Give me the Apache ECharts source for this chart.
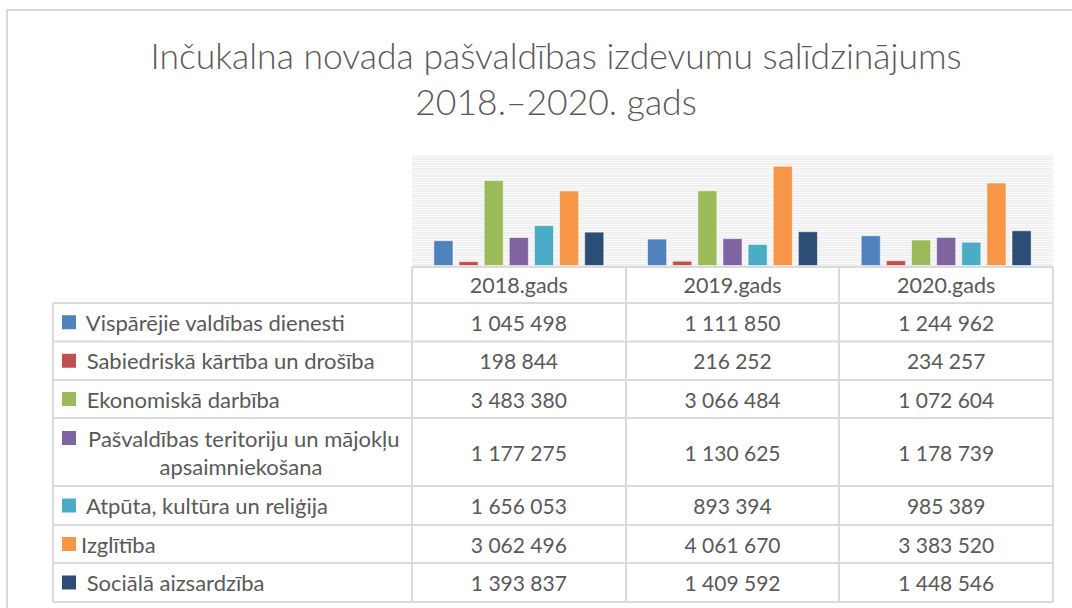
<!DOCTYPE html>
<html>
<head>
<meta charset="utf-8">
<script src="https://cdn.jsdelivr.net/npm/echarts@6/dist/echarts.min.js"></script>
<style>
  html, body { margin: 0; padding: 0; background: #fff; }
  #main { width: 1072px; height: 608px; }
</style>
</head>
<body>
<div id="main"></div>
<script>
// data
const years = ['2018.gads', '2019.gads', '2020.gads']
const seriesNames = [
  ' Vispārējie valdības dienesti',
  ' Sabiedriskā kārtība un drošība',
  ' Ekonomiskā darbība',
  ' Pašvaldības teritoriju un mājokļu\napsaimniekošana',
  ' Atpūta, kultūra un reliģija',
  'Izglītība',
  ' Sociālā aizsardzība'
]
const vispareji = [1045498, 1111850, 1244962]
const kartiba = [198844, 216252, 234257]
const ekonomika = [3483380, 3066484, 1072604]
const teritorijas = [1177275, 1130625, 1178739]
const kultura = [1656053, 893394, 985389]
const izglitiba = [3062496, 4061670, 3383520]
const socialie = [1393837, 1409592, 1448546]
const allValues = [vispareji, kartiba, ekonomika, teritorijas, kultura, izglitiba, socialie]
const colors = ['#4F81BD', '#C0504D', '#9BBB59', '#8064A2', '#4BACC6', '#F79646', '#2C4D75']

const font = 'Lato, "Liberation Sans", sans-serif'
const textColor = '#595959'
const lineColor = '#dadada'

const fmt = v => String(v).replace(/\B(?=(\d{3})+(?!\d))/g, ' ')

const myChart = echarts.init(document.getElementById('main'), null, { renderer: 'svg' })
myChart.setOption({
  animation: false,
  title: {
    text: 'Inčukalna novada pašvaldības izdevumu salīdzinājums\n2018.–2020. gads',
    left: 551,
    top: 27,
    textAlign: 'center',
    textStyle: {
      fontFamily: font,
      fontWeight: 300,
      fontSize: 35.5,
      lineHeight: 46,
      color: textColor
    }
  },
  grid: {
    left: 412,
    right: 19,
    top: 155,
    height: 111,
    show: true,
    backgroundColor: '#efefef',
    borderWidth: 0
  },
  xAxis: {
    type: 'category',
    data: years,
    axisLine: { show: false },
    axisTick: { show: false },
    axisLabel: { show: false }
  },
  yAxis: {
    type: 'value',
    min: 0,
    max: 4500000,
    interval: 100000,
    axisLine: { show: false },
    axisTick: { show: false },
    axisLabel: { show: false },
    splitLine: { lineStyle: { color: '#fafafa', width: 1 } }
  },
  series: allValues.map((vals, i) => ({
    name: seriesNames[i],
    type: 'bar',
    data: vals,
    barGap: '25%',
    barCategoryGap: '20%',
    itemStyle: {
      color: colors[i],
      borderColor: 'rgba(255,255,255,0.55)',
      borderWidth: 1
    }
  }))
})

// data table under the plot
const tableLeft = 53
const plotLeft = 412
const plotRight = 1053
const headerTop = 267
const rowTops = [303, 341.5, 380, 418, 486, 525, 563, 602]
const colEdges = [plotLeft, 626, 839, plotRight]
const els = []

const line = (x1, y1, x2, y2) => ({
  type: 'line',
  shape: { x1, y1, x2, y2 },
  style: { stroke: lineColor, lineWidth: 2 },
  silent: true
})
const text = (str, x, y, align, size) => ({
  type: 'text',
  x, y,
  style: {
    text: str,
    fill: textColor,
    font: size + 'px ' + font,
    align: align,
    verticalAlign: 'middle',
    lineHeight: 28
  },
  silent: true
})

// outer chart border
els.push({
  type: 'rect',
  shape: { x: 7, y: 10, width: 1090, height: 640 },
  style: { fill: 'none', stroke: '#d9d9d9', lineWidth: 2 },
  silent: true
})

els.push(line(plotLeft, headerTop, plotRight, headerTop))
rowTops.forEach(y => els.push(line(tableLeft, y, plotRight, y)))
els.push(line(tableLeft, rowTops[0], tableLeft, rowTops[rowTops.length - 1]))
colEdges.forEach(x => els.push(line(x, headerTop, x, rowTops[rowTops.length - 1])))

years.forEach((yr, j) => {
  const cx = myChart.convertToPixel({ xAxisIndex: 0 }, yr)
  els.push(text(yr, cx, (headerTop + rowTops[0]) / 2, 'center', 21.5))
  allValues.forEach((vals, i) => {
    const cy = (rowTops[i] + rowTops[i + 1]) / 2
    els.push(text(fmt(vals[j]), cx, cy, 'center', 21))
  })
})

seriesNames.forEach((name, i) => {
  const cy = (rowTops[i] + rowTops[i + 1]) / 2
  const multi = name.indexOf('\n') >= 0
  const keyY = multi ? cy - 14 : cy
  els.push({
    type: 'rect',
    shape: { x: 62, y: keyY - 7, width: 14, height: 14 },
    style: { fill: colors[i] },
    silent: true
  })
  if (multi) {
    els.push(text(name, 241, cy, 'center', 22))
  } else {
    els.push(text(name, 81, cy, 'left', 22))
  }
})

myChart.setOption({ graphic: { elements: els } })
</script>
</body>
</html>
